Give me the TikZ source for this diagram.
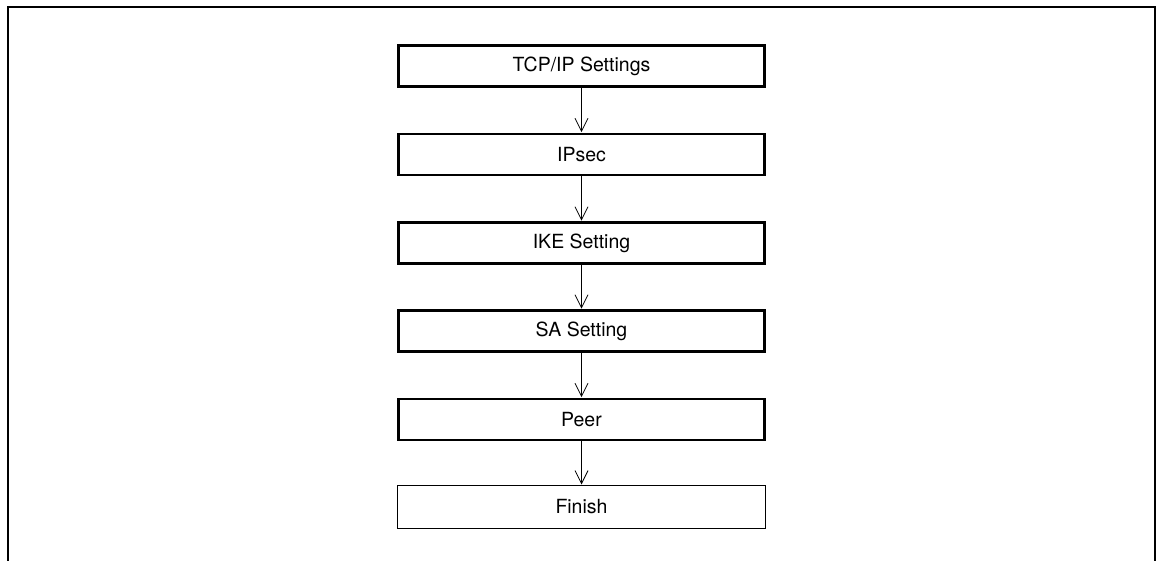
\documentclass[tikz,border=0pt]{standalone}
\usepackage{fontspec}
\setmainfont{TeX Gyre Heros}
\usetikzlibrary{arrows.meta}
\tikzset{
  stepbox/.style={draw, line width=2.8pt, minimum width=366pt, minimum height=41pt, inner sep=0pt, font=\fontsize{19.5}{22}\selectfont},
  endbox/.style={draw, line width=1pt, minimum width=368pt, minimum height=43pt, inner sep=0pt, font=\fontsize{19.5}{22}\selectfont},
  flow/.style={line width=0.8pt, -{Straight Barb[length=13pt,width=13pt,line width=0.8pt]}, shorten >=0.5pt}
}
\begin{document}
\begin{tikzpicture}[x=1pt,y=-1pt]
\useasboundingbox (0,0) rectangle (1161,561);
\draw[line width=2.6pt] (8,562) -- (8,7) -- (1155,7) -- (1155,562);
\node[stepbox] (tcp) at (581.5,66) {TCP/IP Settings};
\node[stepbox] (ipsec) at (581.5,154.5) {IPsec};
\node[stepbox] (ike) at (581.5,243) {IKE Setting};
\node[stepbox] (sa) at (581.5,331) {SA Setting};
\node[stepbox] (peer) at (581.5,419.5) {Peer};
\node[endbox] (fin) at (581.5,507) {Finish};
\draw[flow] (tcp) -- (ipsec);
\draw[flow] (ipsec) -- (ike);
\draw[flow] (ike) -- (sa);
\draw[flow] (sa) -- (peer);
\draw[flow] (peer) -- (fin);
\end{tikzpicture}
\end{document}
